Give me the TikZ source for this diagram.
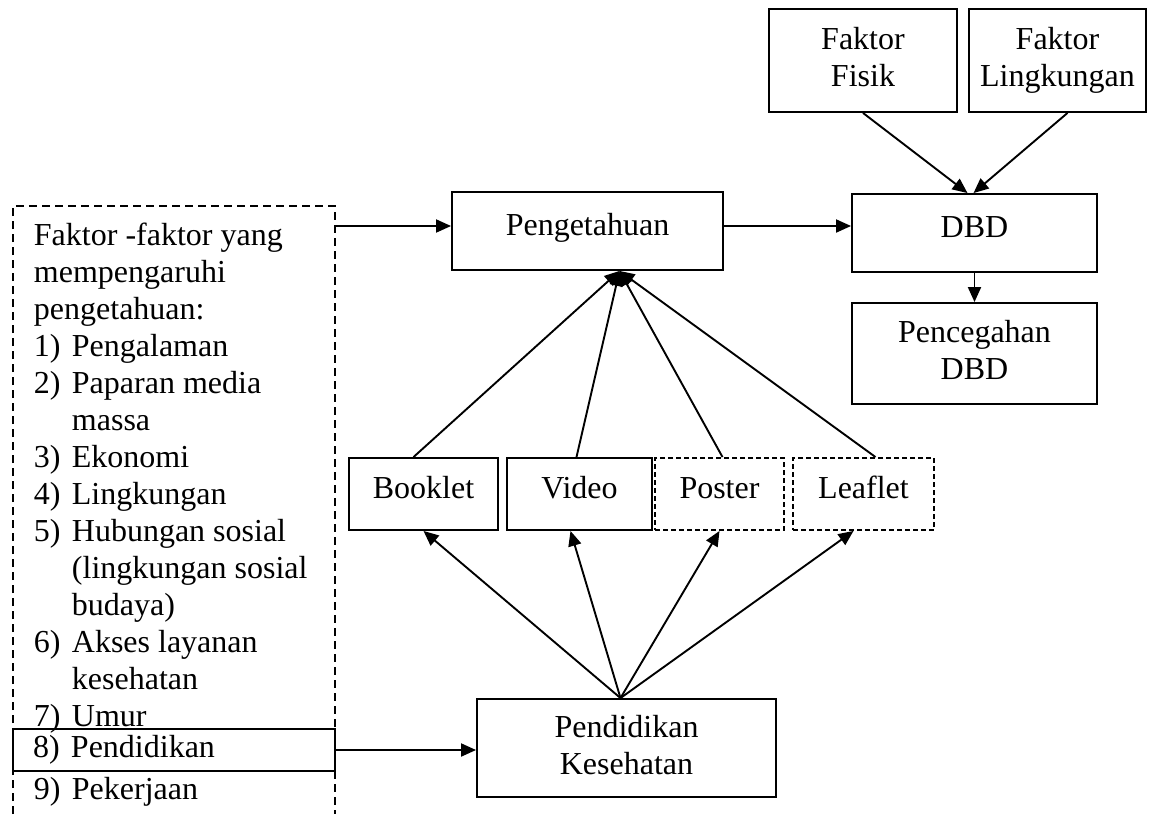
\documentclass[tikz,border=0pt]{standalone}
\usepackage{fontspec}
\setmainfont{Liberation Serif}
\usetikzlibrary{positioning, arrows.meta, calc}

\begin{document}
\begin{tikzpicture}[
    x=1pt, y=-1pt,
    font=\fontsize{32}{37}\selectfont,
    line width=1.9pt,
    box/.style={draw, rectangle, inner sep=0pt, align=center},
    oneline/.style={text height=22pt, text depth=14pt},
    media/.style={box, oneline, minimum height=72pt},
    dashmedia/.style={media, dash pattern=on 5pt off 3pt},
    arr/.style={-{Triangle[length=15pt, width=13pt]}}
]
    \useasboundingbox (0,0) rectangle (1159,814);

    % --- Top factors ---
    \node[box, minimum width=188pt, minimum height=103pt] (fisik) at (863,60.5) {Faktor\\Fisik\vphantom{g}};
    \node[box, minimum width=177pt, minimum height=103pt] (lingk) at (1057.5,60.5) {Faktor\\Lingkungan};

    % --- Main chain ---
    \node[box, oneline, minimum width=271pt, minimum height=78pt] (tahu) at (587.5,231) {Pengetahuan};
    \node[box, oneline, minimum width=245pt, minimum height=78pt] (dbd) at (974.5,233) {DBD};
    \node[box, minimum width=245pt, minimum height=101pt] (cegah) at (974.5,353.5) {Pencegahan\\DBD\vphantom{g}};

    % --- Media ---
    \node[media, minimum width=149pt] (booklet) at (423.5,494) {Booklet};
    \node[media, minimum width=145pt] (video) at (579.5,494) {Video};
    \node[dashmedia, minimum width=129pt] (poster) at (719.5,494) {Poster};
    \node[dashmedia, minimum width=141pt] (leaflet) at (863.5,494) {Leaflet};

    \node[box, minimum width=299pt, minimum height=98pt] (pendkes) at (626.5,748) {Pendidikan\\Kesehatan\vphantom{g}};

    % --- Factors list (left) ---
    \draw[dash pattern=on 8pt off 5pt] (13,814) |- (335,206) -- (335,814);
    \node[anchor=north west, align=left, inner sep=0pt] (faktorlist) at (33,222) {%
        Faktor -faktor yang\\
        mempengaruhi\\
        pengetahuan:\\
        \makebox[38pt][l]{1)}Pengalaman\\
        \makebox[38pt][l]{2)}Paparan media\\
        \hspace*{38pt}massa\\
        \makebox[38pt][l]{3)}Ekonomi\\
        \makebox[38pt][l]{4)}Lingkungan\\
        \makebox[38pt][l]{5)}Hubungan sosial\\
        \hspace*{38pt}(lingkungan sosial\\
        \hspace*{38pt}budaya)\\
        \makebox[38pt][l]{6)}Akses layanan\\
        \hspace*{38pt}kesehatan\\
        \makebox[38pt][l]{7)}Umur};
    \node[box, minimum width=322pt, minimum height=42pt, text width=282pt, align=left] (pend8) at (174,750) {\makebox[38pt][l]{8)}Pendidikan};
    \node[anchor=base west, inner sep=0pt] (kerja) at (33,799) {\makebox[38pt][l]{9)}Pekerjaan};

    % --- Connectors ---
    \coordinate (faktorout) at (335,226);
    \draw[arr] (faktorout) -- (faktorout -| tahu.west);
    \draw[arr] (tahu.east |- faktorout) -- (dbd.west |- faktorout);
    \draw[arr] (fisik.south) -- ([xshift=-7pt]dbd.north);
    \draw[arr] ([xshift=10pt]lingk.south) -- ([xshift=-1pt]dbd.north);
    \draw[arr] (dbd.south) -- (cegah.north);

    \coordinate (meet) at ([xshift=32pt]tahu.south);
    \draw[arr] ([xshift=-10pt]booklet.north) -- (meet);
    \draw[arr] ([xshift=-3pt]video.north) -- (meet);
    \draw[arr] ([xshift=3pt]poster.north) -- (meet);
    \draw[arr] ([xshift=12pt]leaflet.north) -- (meet);

    \coordinate (spread) at ([xshift=-6pt]pendkes.north);
    \draw[arr] (spread) -- (booklet.south);
    \draw[arr] (spread) -- ([xshift=-9pt]video.south);
    \draw[arr] (spread) -- (poster.south);
    \draw[arr] (spread) -- ([xshift=-10pt]leaflet.south);

    \draw[arr] (pend8.east) -- (pend8.east -| pendkes.west);

\end{tikzpicture}
\end{document}
